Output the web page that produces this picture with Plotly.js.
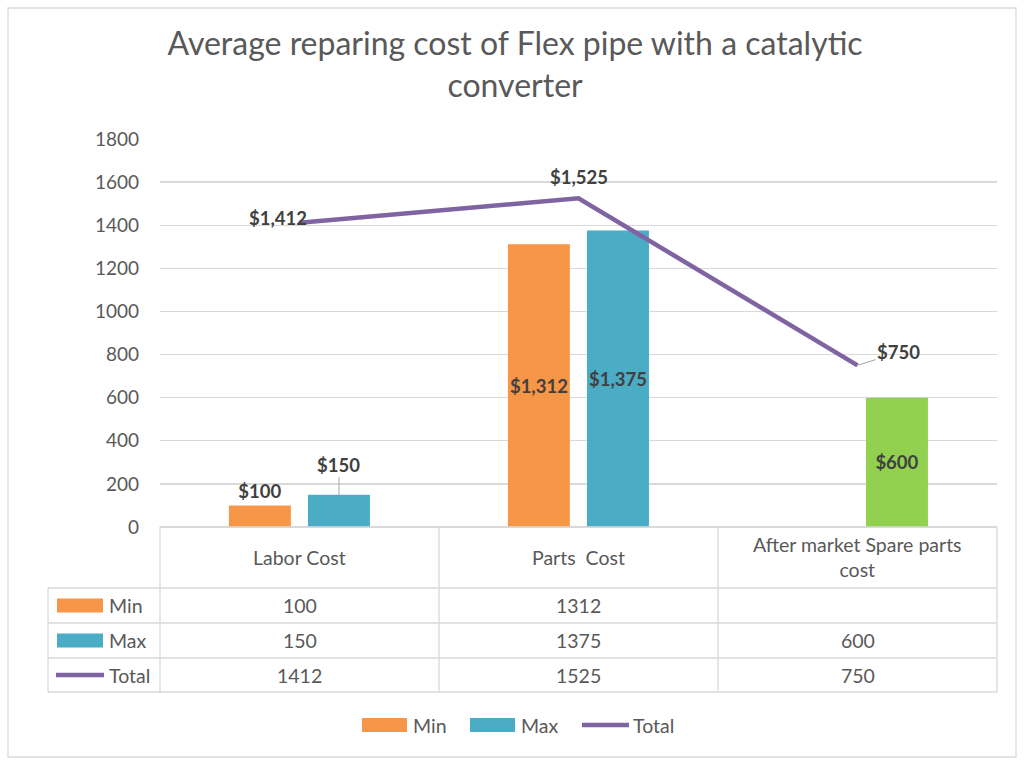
<!DOCTYPE html>
<html><head><meta charset="utf-8">
<script src="https://cdn.plot.ly/plotly-3.0.1.min.js"></script>
<style>html,body{margin:0;padding:0;background:#fff;}#chart{width:1024px;height:763px;}</style>
</head><body><div id="chart"></div>
<script>
const categories = ['Labor Cost', 'Parts  Cost', 'After market Spare parts<br>cost'];
const seriesNames = ['Min', 'Max', 'Total'];
const minVals = [100, 1312, null];
const maxVals = [150, 1375, 600];
const totalVals = [1412, 1525, 750];
const chartTitle = 'Average reparing cost of Flex pipe with a catalytic<br>converter';

const C_MIN = '#f79646', C_MAX = '#4bacc6', C_GREEN = '#92d050', C_TOT = '#8064a2';
const GRID = '#d9d9d9', TXT = '#595959', LBL = '#404040';
const FONT = 'Lato, "Open Sans", sans-serif';

const W = 1024, H = 763;
const M = {l: 160, r: 27, t: 139, b: 236};
const PW = W - M.l - M.r, PH = H - M.t - M.b;
const px = v => (v - M.l) / PW;
const py = v => (H - M.b - v) / PH;

const xIdx = categories.map((c, i) => i);
const BW = 0.222, OFF_MIN = -0.253, OFF_MAX = 0.0305;
const money = v => '$' + v.toLocaleString('en-US');
const LFONT = {family: FONT, size: 18.5, color: LBL, weight: 'bold'};

const traces = [
  {type: 'bar', name: seriesNames[0], x: xIdx, y: minVals, width: BW, offset: OFF_MIN,
   marker: {color: C_MIN}, text: minVals.map(v => v == null ? '' : money(v)), textangle: 0,
   textposition: ['outside', 'inside', 'none'], insidetextanchor: 'middle', constraintext: 'none',
   textfont: LFONT, insidetextfont: LFONT, outsidetextfont: LFONT, cliponaxis: false, showlegend: false, hoverinfo: 'y'},
  {type: 'bar', name: seriesNames[1], x: xIdx, y: maxVals, width: BW, offset: OFF_MAX,
   marker: {color: [C_MAX, C_MAX, C_GREEN]}, text: maxVals.map((v, i) => i === 0 ? '' : money(v)), textangle: 0,
   textposition: ['none', 'inside', 'inside'], insidetextanchor: 'middle', constraintext: 'none',
   textfont: LFONT, insidetextfont: LFONT, cliponaxis: false, showlegend: false, hoverinfo: 'y'},
  {type: 'scatter', mode: 'lines', name: seriesNames[2], x: xIdx, y: totalVals,
   line: {color: C_TOT, width: 4.5}, cliponaxis: false, showlegend: false}
];

const shapes = [];
const annotations = [];
const line = (x0, y0, x1, y1) => shapes.push({type: 'line', xref: 'paper', yref: 'paper',
  x0: px(x0), y0: py(y0), x1: px(x1), y1: py(y1), line: {color: GRID, width: 1.3}});
// outer chart border
shapes.push({type: 'rect', xref: 'paper', yref: 'paper', x0: px(8), y0: py(8), x1: px(1016), y1: py(757),
  line: {color: GRID, width: 1.3}});
// data table
const colX = [160, 439, 718, 997];
const rowY = [527, 588, 623, 658, 692];
line(160, 527, 997, 527);
rowY.slice(1).forEach(y => line(48, y, 997, y));
colX.forEach(x => line(x, 527, x, 692));
line(48, 588, 48, 692);

const TFONT = {family: FONT, size: 19.5, color: TXT};
const ann = (text, x, y) => annotations.push({text, x, y, xref: 'x', yref: 'paper', xanchor: 'center',
  yanchor: 'middle', showarrow: false, font: TFONT});
categories.forEach((c, i) => ann(c, i, py(557)));
const rows = [minVals, maxVals, totalVals];
rows.forEach((vals, r) => {
  const ym = (rowY[r + 1] + rowY[r + 2]) / 2;
  const yc = py(ym);
  vals.forEach((v, i) => { if (v != null) ann(String(v), i, yc); });
  annotations.push({text: seriesNames[r], xref: 'paper', yref: 'paper', x: px(107), y: yc, xanchor: 'left',
    yanchor: 'middle', showarrow: false, font: TFONT});
  const keyColor = [C_MIN, C_MAX, C_TOT][r];
  if (r < 2) shapes.push({type: 'rect', xref: 'paper', yref: 'paper', x0: px(57), x1: px(103),
    y0: py(ym - 7), y1: py(ym + 7), fillcolor: keyColor, line: {width: 0}});
  else shapes.push({type: 'line', xref: 'paper', yref: 'paper', x0: px(56), x1: px(104), y0: py(ym), y1: py(ym),
    line: {color: keyColor, width: 4.5}});
});
// bottom legend
const LY = 725;
[[362, C_MIN, seriesNames[0]], [470, C_MAX, seriesNames[1]], [582, C_TOT, seriesNames[2]]].forEach(([x, col, nm], i) => {
  if (i < 2) shapes.push({type: 'rect', xref: 'paper', yref: 'paper', x0: px(x), x1: px(x + 45),
    y0: py(LY - 7), y1: py(LY + 7), fillcolor: col, line: {width: 0}});
  else shapes.push({type: 'line', xref: 'paper', yref: 'paper', x0: px(x), x1: px(x + 47), y0: py(LY), y1: py(LY),
    line: {color: col, width: 4.5}});
  annotations.push({text: nm, xref: 'paper', yref: 'paper', x: px(x + 49), y: py(LY), xanchor: 'left',
    yanchor: 'middle', showarrow: false, font: TFONT});
});
// labels with offsets / leader lines
annotations.push({text: money(totalVals[0]), x: xIdx[0], y: totalVals[0], xref: 'x', yref: 'y',
  showarrow: false, xanchor: 'right', yanchor: 'middle', xshift: 9, yshift: 5, font: LFONT});
annotations.push({text: money(maxVals[0]), x: xIdx[0] + OFF_MAX + BW / 2, y: maxVals[0], xref: 'x', yref: 'y',
  showarrow: true, arrowhead: 0, arrowcolor: '#a6a6a6', arrowwidth: 1, ax: 0, ay: -30, standoff: 0, font: LFONT});
annotations.push({text: money(totalVals[1]), x: xIdx[1], y: totalVals[1], xref: 'x', yref: 'y',
  showarrow: false, yanchor: 'bottom', yshift: 8, font: LFONT});
annotations.push({text: money(totalVals[2]), x: xIdx[2], y: totalVals[2], xref: 'x', yref: 'y',
  showarrow: true, arrowhead: 0, arrowcolor: '#a6a6a6', arrowwidth: 1, ax: 41, ay: -13, standoff: 0, font: LFONT});

const layout = {
  width: W, height: H, margin: M, paper_bgcolor: '#fff', plot_bgcolor: '#fff',
  barmode: 'overlay', showlegend: false,
  title: {text: chartTitle, x: 0.503, xanchor: 'center', y: 0.928, yanchor: 'top',
    font: {family: FONT, size: 32, color: TXT, weight: 400}},
  xaxis: {range: [-0.5, 2.5], showticklabels: false, showgrid: false, zeroline: false, showline: false, ticks: ''},
  yaxis: {range: [0, 1800], dtick: 200, showgrid: true, gridcolor: GRID, gridwidth: 1.3, zeroline: true,
    zerolinecolor: GRID, zerolinewidth: 1.3, showline: false, ticks: '', ticklabelstandoff: 20,
    tickfont: {family: FONT, size: 19, color: TXT}},
  shapes, annotations
};
Plotly.newPlot('chart', traces, layout, {displayModeBar: false, staticPlot: true});
</script></body></html>
